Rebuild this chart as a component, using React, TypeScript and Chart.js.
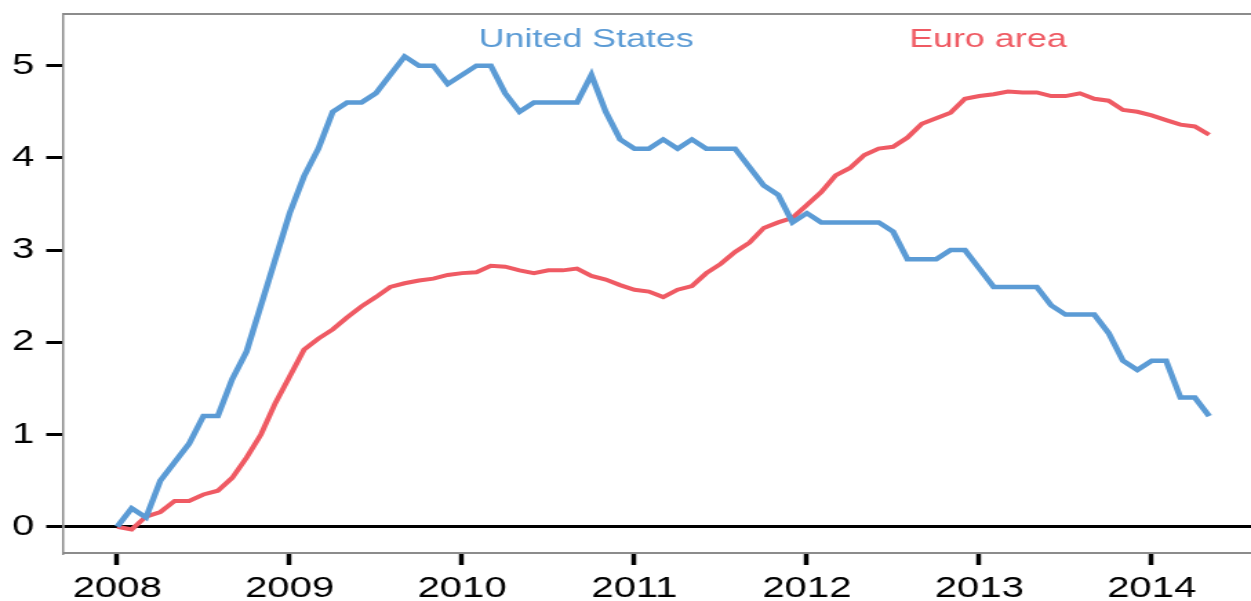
import { useEffect, useRef } from "react";
import { Chart, registerables } from "chart.js";

Chart.register(...registerables);

// ---- data ----
const START_YEAR = 2008;
const US = [
  0, 0.2, 0.1, 0.5, 0.7, 0.9, 1.2, 1.2, 1.6, 1.9, 2.4, 2.9,
  3.4, 3.8, 4.1, 4.5, 4.6, 4.6, 4.7, 4.9, 5.1, 5.0, 5.0, 4.8,
  4.9, 5.0, 5.0, 4.7, 4.5, 4.6, 4.6, 4.6, 4.6, 4.9, 4.5, 4.2,
  4.1, 4.1, 4.2, 4.1, 4.2, 4.1, 4.1, 4.1, 3.9, 3.7, 3.6, 3.3,
  3.4, 3.3, 3.3, 3.3, 3.3, 3.3, 3.2, 2.9, 2.9, 2.9, 3.0, 3.0,
  2.8, 2.6, 2.6, 2.6, 2.6, 2.4, 2.3, 2.3, 2.3, 2.1, 1.8, 1.7,
  1.8, 1.8, 1.4, 1.4, 1.2,
];
const EURO = [
  0, -0.03, 0.11, 0.16, 0.28, 0.28, 0.35, 0.39, 0.53, 0.75, 1.0, 1.34,
  1.63, 1.92, 2.04, 2.14, 2.27, 2.39, 2.49, 2.6, 2.64, 2.67, 2.69, 2.73,
  2.75, 2.76, 2.83, 2.82, 2.78, 2.75, 2.78, 2.78, 2.8, 2.72, 2.68, 2.62,
  2.57, 2.55, 2.49, 2.57, 2.61, 2.75, 2.85, 2.98, 3.08, 3.24, 3.3, 3.35,
  3.49, 3.63, 3.81, 3.89, 4.03, 4.1, 4.12, 4.22, 4.37, 4.43, 4.49, 4.64,
  4.67, 4.69, 4.72, 4.71, 4.71, 4.67, 4.67, 4.7, 4.64, 4.62, 4.52, 4.5,
  4.46, 4.41, 4.36, 4.34, 4.25,
];
const SERIES_NAMES = ["United States", "Euro area"];
const SERIES_COLORS = ["#5B9BD5", "#EF5A63"];
const LABEL_X = [2010.72, 2013.05];
const LABEL_Y = [5.28, 5.28];
const YEAR_TICKS = [2008, 2009, 2010, 2011, 2012, 2013, 2014];
const Y_TICKS = [0, 1, 2, 3, 4, 5];

// ---- layout ----
const W = 907;
const H = 601;
const STRETCH = 1251 / W;
const X_MIN = 2007.688;
const X_MAX = 2014.576;
const Y_MIN = -0.285;
const Y_MAX = 5.56;
const FONT = "'Liberation Sans', Arial, sans-serif";

const monthX = (i: number) => START_YEAR + i / 12;

export default function App() {
  const ref = useRef<HTMLCanvasElement>(null);

  useEffect(() => {
    document.body.style.margin = "0";
    document.body.style.overflow = "hidden";
    const canvas = ref.current;
    if (!canvas) return;

    const framePlugin = {
      id: "frameAndLabels",
      afterDraw(chart: any) {
        const { ctx, chartArea, scales } = chart;
        ctx.save();
        ctx.strokeStyle = "#8c8c8c";
        ctx.lineWidth = 2;
        ctx.beginPath();
        ctx.moveTo(chartArea.left, chartArea.top);
        ctx.lineTo(chartArea.right, chartArea.top);
        ctx.stroke();
        ctx.font = `26px ${FONT}`;
        ctx.textAlign = "center";
        ctx.textBaseline = "middle";
        SERIES_NAMES.forEach((name, i) => {
          ctx.fillStyle = SERIES_COLORS[i];
          ctx.fillText(
            name,
            scales.x.getPixelForValue(LABEL_X[i]),
            scales.y.getPixelForValue(LABEL_Y[i])
          );
        });
        ctx.restore();
      },
    };

    const chart = new Chart(canvas, {
      type: "line",
      data: {
        datasets: [
          {
            label: SERIES_NAMES[0],
            data: US.map((v, i) => ({ x: monthX(i), y: v })),
            borderColor: SERIES_COLORS[0],
            borderWidth: 4.5,
            pointRadius: 0,
            tension: 0,
            fill: false,
          },
          {
            label: SERIES_NAMES[1],
            data: EURO.map((v, i) => ({ x: monthX(i), y: v })),
            borderColor: SERIES_COLORS[1],
            borderWidth: 4,
            pointRadius: 0,
            tension: 0,
            fill: false,
          },
        ],
      },
      options: {
        animation: false,
        responsive: false,
        events: [],
        layout: { padding: { top: 14, right: 0, left: 0, bottom: 0 } },
        plugins: {
          legend: { display: false },
          tooltip: { enabled: false },
        },
        scales: {
          x: {
            type: "linear",
            min: X_MIN,
            max: X_MAX,
            afterBuildTicks: (s: any) => {
              s.ticks = YEAR_TICKS.map((v) => ({ value: v }));
            },
            afterFit: (s: any) => {
              s.height = 48;
              s.paddingLeft = 0;
              s.paddingRight = 0;
            },
            ticks: {
              callback: (v: any) => String(v),
              color: "#000",
              font: { family: FONT, size: 29 },
              padding: 7,
              maxRotation: 0,
              autoSkip: false,
            },
            grid: {
              color: "rgba(0,0,0,0)",
              tickColor: "#000",
              tickWidth: 3.5,
              tickLength: 12,
            },
            border: { color: "#8c8c8c", width: 2 },
          },
          y: {
            type: "linear",
            min: Y_MIN,
            max: Y_MAX,
            afterBuildTicks: (s: any) => {
              s.ticks = Y_TICKS.map((v) => ({ value: v }));
            },
            afterFit: (s: any) => {
              s.width = 46;
              s.paddingTop = 0;
              s.paddingBottom = 0;
            },
            ticks: {
              callback: (v: any) => String(v),
              color: "#000",
              font: { family: FONT, size: 29 },
              padding: 8.5,
            },
            grid: {
              color: (c: any) =>
                c.tick && c.tick.value === 0 ? "#000" : "rgba(0,0,0,0)",
              lineWidth: (c: any) => (c.tick && c.tick.value === 0 ? 3 : 1),
              tickColor: "#000",
              tickWidth: 3,
              tickLength: 12.5,
            },
            border: { color: "#8c8c8c", width: 1.5 },
          },
        },
      },
      plugins: [framePlugin],
    } as any);

    return () => chart.destroy();
  }, []);

  return (
    <div
      style={{
        position: "absolute",
        left: 0,
        top: 0,
        width: W,
        height: H,
        transform: `scaleX(${STRETCH})`,
        transformOrigin: "0 0",
      }}
    >
      <canvas ref={ref} width={W} height={H} style={{ display: "block" }} />
    </div>
  );
}
